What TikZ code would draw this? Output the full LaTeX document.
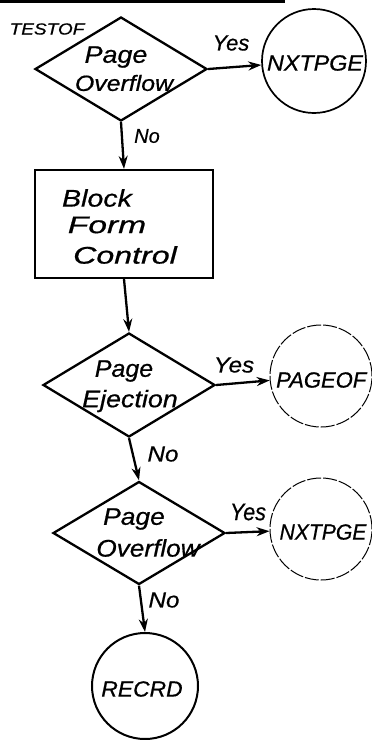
\documentclass[tikz,border=0pt]{standalone}
\usepackage{fontspec}
\usepackage{graphicx}
\setmainfont{Liberation Sans}[FakeBold=0.6]
\usetikzlibrary{shapes.geometric,arrows.meta}
\newcommand{\hsc}[2]{\scalebox{#1}[1]{#2}}
\newcommand{\fsz}[1]{\itshape\fontsize{#1}{#1}\selectfont}
\tikzset{
  dec/.style={draw, line width=2.3pt, diamond, inner sep=0pt, minimum width=172pt, minimum height=104pt},
  proc/.style={draw, line width=2.3pt, rectangle, inner sep=0pt, minimum width=178pt, minimum height=108pt},
  term/.style={draw, line width=1.7pt, circle, inner sep=0pt},
  faint/.style={draw, line width=1pt, circle, inner sep=0pt, dash pattern=on 14pt off 2pt},
  txt/.style={inner sep=0pt},
  arr/.style={line width=2.3pt, -{Stealth[length=13pt, width=9pt]}}
}
\begin{document}
\begin{tikzpicture}[x=1pt, y=-1pt]
\useasboundingbox (0,0) rectangle (372,740);
\fill (0,0) rectangle (285,3);
% shapes
\node[dec] (d1) at (121,69) {};
\node[term, minimum size=104pt] (c1) at (314,61) {};
\node[proc] (b1) at (124,224) {};
\node[dec] (d2) at (129,385) {};
\node[faint, minimum size=102pt] (c2) at (321,376) {};
\node[dec, minimum height=103pt] (d3) at (139,533) {};
\node[faint, minimum size=102pt] (c3) at (321,529) {};
\node[term, line width=2pt, minimum size=106pt] (c4) at (145,686) {};
% texts
\node[txt, font=\fsz{16}] (t0) at (47,29) {\hsc{1.19}{TESTOF}};
\node[txt, font=\fsz{24}] (t1a) at (116,57) {\hsc{1.12}{Page}};
\node[txt, font=\fsz{22}] (t1b) at (124,83) {\hsc{1.13}{Overflow}};
\node[txt, font=\fsz{22}] (t1c) at (315,63) {\hsc{1.06}{NXTPGE}};
\node[txt, font=\fsz{24}] (tb1) at (97,198) {\hsc{1.19}{Block}};
\node[txt, font=\fsz{24}] (tb2) at (107,225) {\hsc{1.4}{Form}};
\node[txt, font=\fsz{24}] (tb3) at (125,255) {\hsc{1.34}{Control}};
\node[txt, font=\fsz{24}] (t2a) at (124,371) {\hsc{1.04}{Page}};
\node[txt, font=\fsz{24}] (t2b) at (130,401) {\hsc{1.12}{Ejection}};
\node[txt, font=\fsz{22}, anchor=west] (t2c) at (276,380) {PAGEOF};
\node[txt, font=\fsz{24}] (t3a) at (134,519) {\hsc{1.1}{Page}};
\node[txt, font=\fsz{24}] (t3b) at (148,548) {\hsc{1.09}{Overflow}};
\node[txt, font=\fsz{22}] (t3c) at (323,532) {\hsc{0.96}{NXTPGE}};
\node[txt, font=\fsz{22}] (t4) at (142,689) {\hsc{1.04}{RECRD}};
% branch labels
\node[txt, font=\fsz{22}] (y1) at (231,43) {Yes};
\node[txt, font=\fsz{20}] (n1) at (147,136) {No};
\node[txt, font=\fsz{22}] (y2) at (234,365) {\hsc{1.1}{Yes}};
\node[txt, font=\fsz{22}] (n2) at (163,454) {\hsc{1.1}{No}};
\node[txt, font=\fsz{24}] (y3) at (248,512) {\hsc{0.9}{Yes}};
\node[txt, font=\fsz{22}] (n3) at (164,600) {\hsc{1.1}{No}};
% connectors
\draw[arr] (d1.east) -- (c1);
\draw[arr] (d1.south) -- (b1.north);
\draw[arr] (b1.south) -- (d2.north);
\draw[arr] (d2.east) -- (c2);
\draw[arr] (d2.south) -- (d3.north);
\draw[arr] (d3.east) -- (c3);
\draw[arr] (d3.south) -- (c4.north);
\end{tikzpicture}
\end{document}
